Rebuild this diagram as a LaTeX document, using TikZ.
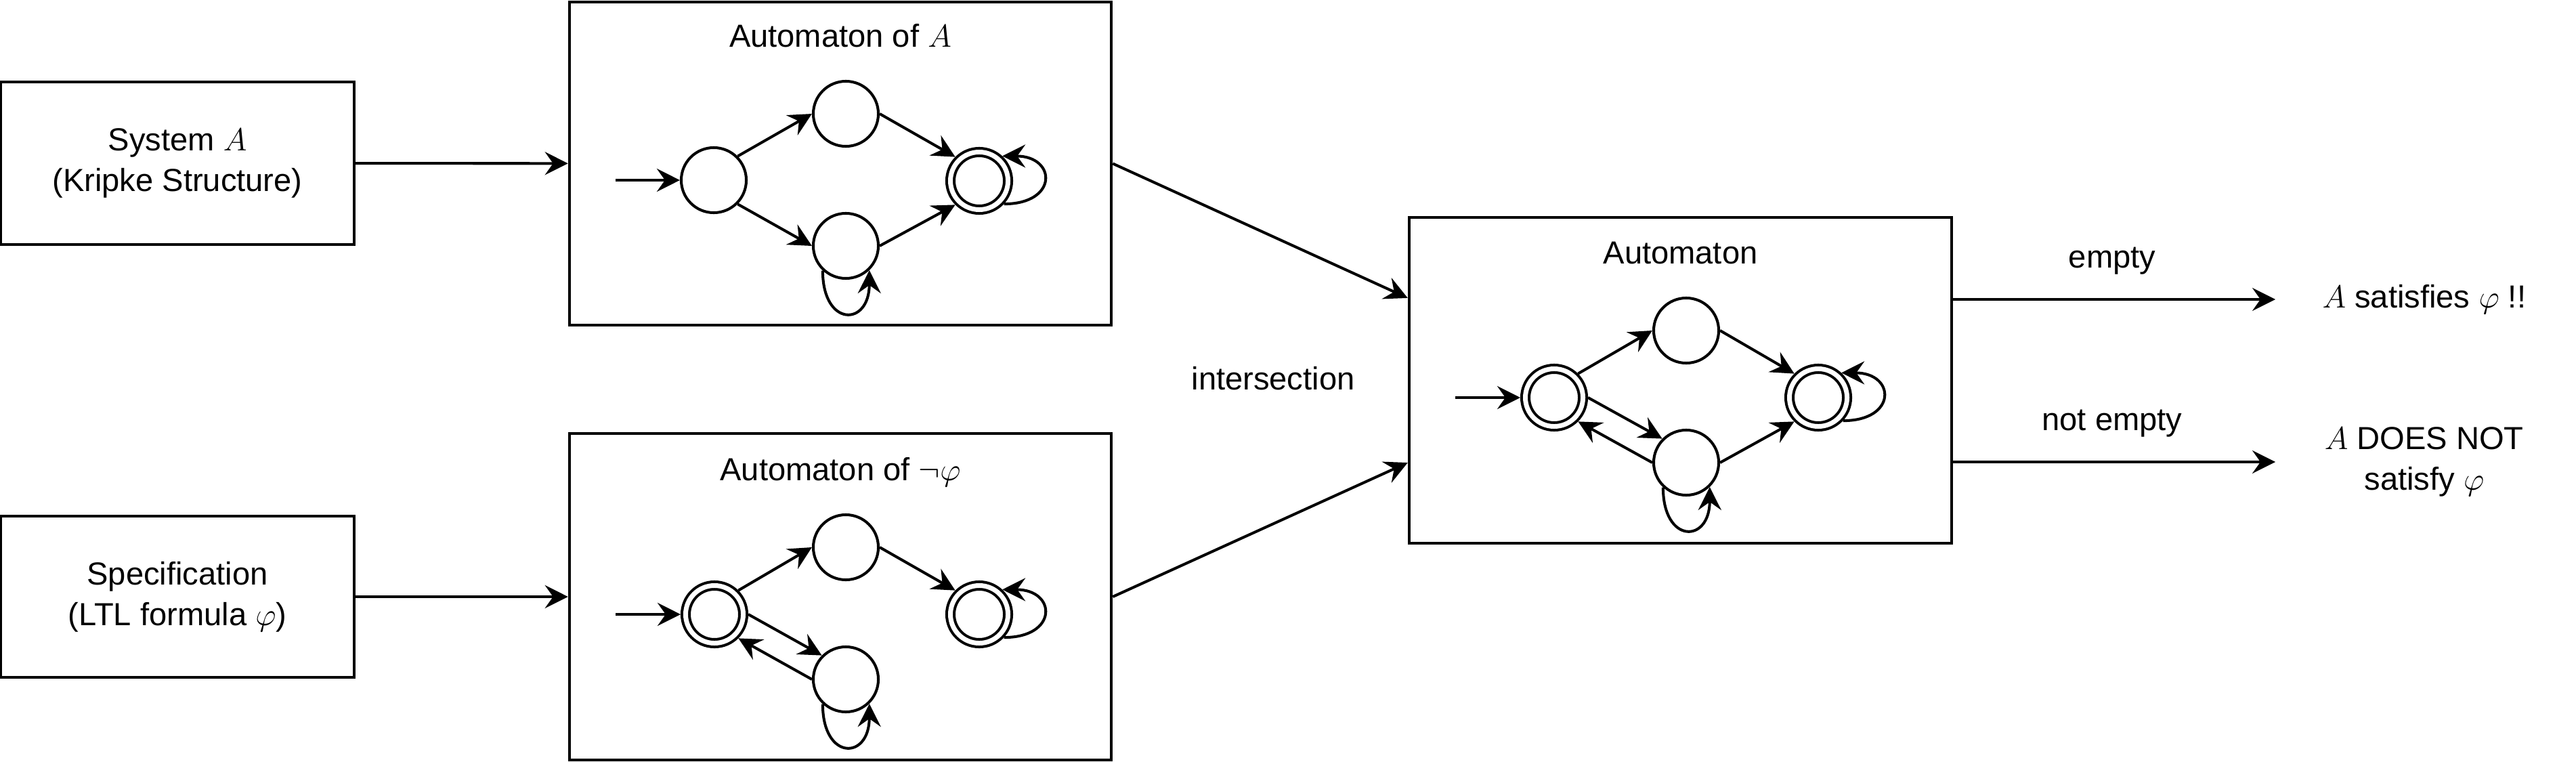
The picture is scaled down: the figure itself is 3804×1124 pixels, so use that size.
\RequirePackage{fix-cm}
\documentclass[tikz,border=0pt]{standalone}
\usepackage{fontspec}
\setmainfont{Liberation Sans}
\usetikzlibrary{arrows.meta}

\tikzset{
  box/.style={draw, line width=1.15pt, align=center, inner sep=0pt},
  title/.style={anchor=base},
  st/.style={draw, circle, line width=1.15pt, minimum size=0.96cm, inner sep=0pt},
  acc/.style={draw, circle, line width=1.15pt, double, double distance=1.98pt,
    minimum size=0.85cm, inner sep=0pt, outer sep=2.13pt},
  arr/.style={line width=1.15pt, -{Stealth[length=0.34cm,width=0.34cm,inset=0.12cm]}},
  lbl/.style={anchor=base},
  res/.style={anchor=west, align=center, minimum width=4.38cm, inner sep=0pt}
}

\begin{document}
\begin{tikzpicture}[x=0.01cm, y=-0.01cm, font=\fontsize{13.4}{17}\selectfont]

    \useasboundingbox (0,0) rectangle (3804,1124);

    % --- Inputs ---
    \node[box, minimum width=5.21cm, minimum height=2.39cm] (sys) at (262,241)
        {System $A$\\(Kripke Structure)};
    \node[box, minimum width=5.21cm, minimum height=2.38cm] (spec) at (262,881)
        {Specification\\(LTL formula $\varphi$)};

    % --- Automaton boxes ---
    \node[box, minimum width=8.00cm, minimum height=4.77cm] (autA) at (1241,241.5) {};
    \node[box, minimum width=8.00cm, minimum height=4.82cm] (autN) at (1241,881) {};
    \node[box, minimum width=8.01cm, minimum height=4.81cm] (autC) at (2481.5,561.5) {};

    \node[title] at ([yshift=-0.69cm]autA.north) {Automaton of $A$};
    \node[title] at ([yshift=-0.72cm]autN.north) {Automaton of $\neg\varphi$};
    \node[title] at ([yshift=-0.71cm]autC.north) {Automaton};

    % --- Automaton of A ---
    \coordinate (a0in) at (909,266);
    \node[st]  (a0) at (1054,266) {};
    \node[st]  (a1) at (1249,168) {};
    \node[st]  (a2) at (1249,363) {};
    \node[acc] (a3) at (1446,267) {};
    \draw[arr] (a0in) -- (a0);
    \draw[arr] (a0.45) -- (a1.west);
    \draw[arr] (a0.-45) -- (a2.west);
    \draw[arr] (a1.east) -- (a3.135);
    \draw[arr] (a2.east) -- (a3.-135);
    \draw[arr] (a2.-133) to[out=-90, in=-90, looseness=3.1] (a2.-46);
    \draw[arr] (a3.-43) to[out=0, in=0, looseness=2.9] (a3.47);

    % --- Automaton of not phi ---
    \coordinate (n0in) at (909,907);
    \node[acc] (n0) at (1055,907) {};
    \node[st]  (n1) at (1249,808) {};
    \node[st]  (n2) at (1249,1003) {};
    \node[acc] (n3) at (1446,907) {};
    \draw[arr] (n0in) -- (n0);
    \draw[arr] (n0.45) -- (n1.west);
    \draw[arr] (n0.east) -- (n2.135);
    \draw[arr] (n2.west) -- (n0.-45);
    \draw[arr] (n1.east) -- (n3.135);
    \draw[arr] (n2.-133) to[out=-90, in=-90, looseness=3.1] (n2.-46);
    \draw[arr] (n3.-43) to[out=0, in=0, looseness=2.9] (n3.47);

    % --- Product automaton ---
    \coordinate (c0in) at (2149,587);
    \node[acc] (c0) at (2295,587) {};
    \node[st]  (c1) at (2490,488) {};
    \node[st]  (c2) at (2490,683) {};
    \node[acc] (c3) at (2685,587) {};
    \draw[arr] (c0in) -- (c0);
    \draw[arr] (c0.45) -- (c1.west);
    \draw[arr] (c0.east) -- (c2.135);
    \draw[arr] (c2.west) -- (c0.-45);
    \draw[arr] (c1.east) -- (c3.135);
    \draw[arr] (c2.east) -- (c3.-135);
    \draw[arr] (c2.-133) to[out=-90, in=-90, looseness=3.1] (c2.-46);
    \draw[arr] (c3.-43) to[out=0, in=0, looseness=2.9] (c3.47);

    % --- Results ---
    \node[res] (sat)  at (3360,442) {$A$ satisfies $\varphi$ !!};
    \node[res] (nsat) at (3360,682) {$A$ DOES NOT\\satisfy $\varphi$};

    % --- Connectors ---
    \draw[arr] (sys) -- (autA);
    \draw[arr] (spec) -- (autN);
    \draw[arr] (autA.east) -- ([yshift=1.215cm]autC.west);
    \draw[arr] (autN.east) -- ([yshift=-1.215cm]autC.west);
    \draw[arr] (autC.east |- sat.west) -- (sat.west);
    \draw[arr] (autC.east |- nsat.west) -- (nsat.west);

    % --- Labels ---
    \node[lbl] at (1880,575) {intersection};
    \node[lbl] at (3119,395) {empty};
    \node[lbl] at (3119,635) {not empty};

\end{tikzpicture}
\end{document}
